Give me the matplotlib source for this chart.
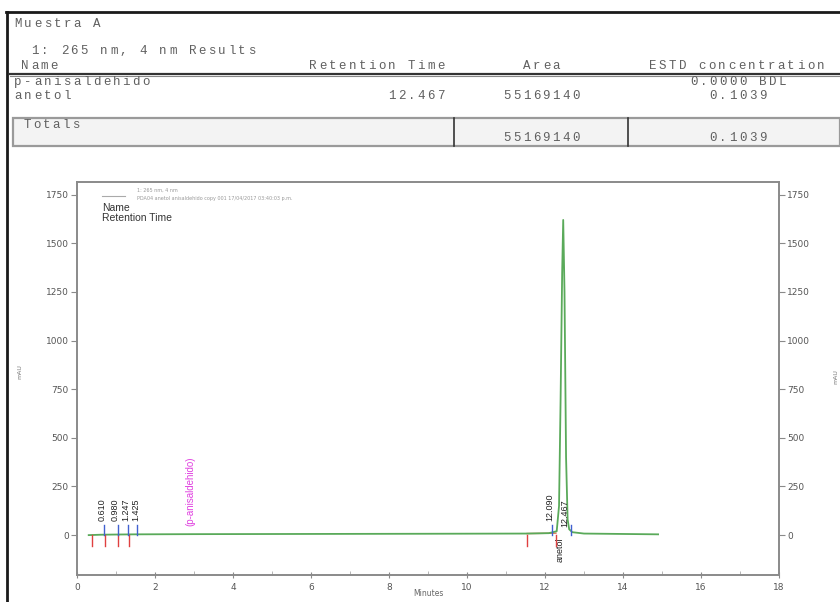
import matplotlib
matplotlib.use('Agg')
import matplotlib.pyplot as plt
from matplotlib.lines import Line2D
from matplotlib.patches import Rectangle
from matplotlib.ticker import MultipleLocator

# ----------------------------------------------------------------------------
# Data
# ----------------------------------------------------------------------------
sample_title = "Muestra A"
channel_title = "1: 265 nm, 4 nm Results"
header_cols = ["Name", "Retention Time", "Area", "ESTD concentration"]
compounds = ["p-anisaldehido", "anetol"]
ret_times = ["", "12.467"]
areas = ["", "55169140"]
conc = ["0.0000 BDL", "0.1039"]
total_area = "55169140"
total_conc = "0.1039"

# chromatogram trace (minutes, mAU)
trace_t = [0.30, 0.60, 1.00, 1.50, 3.00, 6.00, 9.00, 11.50, 12.10, 12.30, 12.36,
           12.40, 12.44, 12.467, 12.50, 12.54, 12.58, 12.62, 12.70, 13.00, 14.90]
trace_y = [0, 2, 3, 4, 5, 6, 7, 8, 10, 20, 150,
           700, 1350, 1620, 1250, 400, 80, 30, 15, 8, 4]

# integration markers
start_marks = [0.38, 0.72, 1.05, 1.33, 11.54, 12.28]   # red, below baseline
end_marks = [0.70, 1.05, 1.31, 1.54, 12.18, 12.66]     # blue, above baseline
peak_labels = ["0.610", "0.980", "1.247", "1.425", "12.090", "12.467"]
peak_label_t = [0.64, 0.97, 1.25, 1.50, 12.13, 12.50]

y_ticks = [0, 250, 500, 750, 1000, 1250, 1500, 1750]
x_ticks = [0, 2, 4, 6, 8, 10, 12, 14, 16, 18]

W, H = 840, 602
fig = plt.figure(figsize=(W / 100, H / 100), dpi=100)
fig.patch.set_facecolor('white')

GRAY = '#606060'


def px(x, y):
    return x / W, 1 - y / H


def mono(x, y, s, step=9.85, size=9, color=GRAY, ha='left'):
    # report font is a stretched courier: place characters one by one
    if ha == 'right':
        x = x - len(s) * step
    elif ha == 'center':
        x = x - len(s) * step / 2
    for i, ch in enumerate(s):
        if ch == ' ':
            continue
        fx, fy = px(x + i * step + step / 2, y)
        fig.text(fx, fy, ch, ha='center', va='center', fontsize=size,
                 family='Liberation Mono', color=color)


def hline(x0, x1, y, lw=1.0, color=GRAY):
    fig.add_artist(Line2D([x0 / W, x1 / W], [1 - y / H, 1 - y / H],
                          transform=fig.transFigure, lw=lw, color=color))


def vline(x, y0, y1, lw=1.0, color=GRAY):
    fig.add_artist(Line2D([x / W, x / W], [1 - y0 / H, 1 - y1 / H],
                          transform=fig.transFigure, lw=lw, color=color))


# ----------------------------------------------------------------------------
# Report frame and results table
# ----------------------------------------------------------------------------
hline(6, 840, 12, lw=2.0, color='#1a1a1a')
vline(7, 12, 602, lw=2.0, color='#1a1a1a')

mono(13, 24, sample_title)
mono(30, 51, channel_title)

col_x = [20, 308, 522, 648]
for cx, name in zip(col_x, header_cols):
    mono(cx, 66, name)
hline(10, 840, 73.5, lw=1.6, color='#333333')
hline(10, 840, 76, lw=0.8, color='#888888')

row_y = [82, 96]
for i in range(len(compounds)):
    mono(13, row_y[i], compounds[i])
    if ret_times[i]:
        mono(446, row_y[i], ret_times[i], ha='right')
    if areas[i]:
        mono(502, row_y[i], areas[i])
    mono(738, row_y[i], conc[i], ha='center')

fig.add_artist(Rectangle(px(13, 146), (840 - 13) / W, 28 / H,
                         transform=fig.transFigure, facecolor='#f3f3f3',
                         edgecolor='#9a9a9a', lw=1.6))
vline(454, 118, 146, lw=1.2, color='#333333')
vline(628, 118, 146, lw=1.2, color='#333333')
mono(22, 125, "Totals")
mono(502, 138, total_area)
mono(738, 138, total_conc, ha='center')

# ----------------------------------------------------------------------------
# Chromatogram
# ----------------------------------------------------------------------------
ax = fig.add_axes([77 / W, 1 - 575 / H, (779 - 77) / W, (575 - 182) / H])
ax.set_xlim(0, 18)
ax.set_ylim(-205, 1815)

ax.plot(trace_t, trace_y, color='#5aaa5a', lw=1.3, zorder=3)

# integration baseline in the anetol region
ax.plot([11.54, 12.28], [8, 10], color='#e07050', lw=1.0, zorder=2)

for t in start_marks:
    ax.plot([t, t], [0, -55], color='#e04040', lw=1.0, zorder=4)
for t in end_marks:
    ax.plot([t, t], [0, 50], color='#4060d0', lw=1.0, zorder=4)

for lab, t in zip(peak_labels, peak_label_t):
    ax.text(t, 75 if t < 12.3 else 40, lab, rotation=90, ha='center', va='bottom',
            fontsize=6.5, color='#222222', family='Liberation Sans')

ax.text(2.9, 45, "(p-anisaldehido)", rotation=90, ha='center', va='bottom',
        fontsize=7, color='#e040e0', family='Liberation Sans')
ax.text(12.38, -10, "anetol", rotation=90, ha='center', va='top',
        fontsize=6.5, color='#222222', family='Liberation Sans')

for side in ['left', 'right', 'top', 'bottom']:
    ax.spines[side].set_color('#8a8a8a')
    ax.spines[side].set_linewidth(1.4)

ax.set_xticks(x_ticks)
ax.xaxis.set_minor_locator(MultipleLocator(1))
ax.set_yticks(y_ticks)
ax.tick_params(axis='x', direction='inout', length=5, width=0.8, colors='#8a8a8a',
               labelcolor='#555555', labelsize=6.5, pad=3)
ax.tick_params(axis='x', which='minor', direction='in', length=3, width=0.6,
               colors='#aaaaaa')
ax.tick_params(axis='y', direction='out', length=4, width=0.8, colors='#8a8a8a',
               labelcolor='#555555', labelsize=6.5, pad=2)

ax_r = ax.twinx()
ax_r.set_ylim(ax.get_ylim())
ax_r.set_yticks(y_ticks)
ax_r.tick_params(axis='y', direction='out', length=4, width=0.8, colors='#8a8a8a',
                 labelcolor='#555555', labelsize=6.5, pad=2)
for side in ['left', 'right', 'top', 'bottom']:
    ax_r.spines[side].set_visible(False)

# legend block in the upper left corner
ax.plot([0.65, 1.22], [1745, 1745], color='#aaaaaa', lw=0.8)
ax.text(1.55, 1775, "1: 265 nm, 4 nm", fontsize=3.5, color='#999999', va='center')
ax.text(1.55, 1730, "PDA04 anetol anisaldehido copy 001 17/04/2017 03:40:03 p.m.",
        fontsize=3.5, color='#999999', va='center')
ax.text(0.65, 1682, "Name", fontsize=7.5, color='#333333', va='center',
        family='Liberation Sans')
ax.text(0.65, 1628, "Retention Time", fontsize=7.5, color='#333333', va='center',
        family='Liberation Sans')

fx, fy = px(20, 372)
fig.text(fx, fy, "mAU", rotation=90, fontsize=4.5, color='#777777', ha='center', va='center')
fx, fy = px(836, 377)
fig.text(fx, fy, "mAU", rotation=90, fontsize=4.5, color='#777777', ha='center', va='center')
fx, fy = px(428, 598)
fig.text(fx, fy, "Minutes", fontsize=5.5, color='#666666', ha='center', va='bottom')

fig.savefig('out.png', dpi=100)
